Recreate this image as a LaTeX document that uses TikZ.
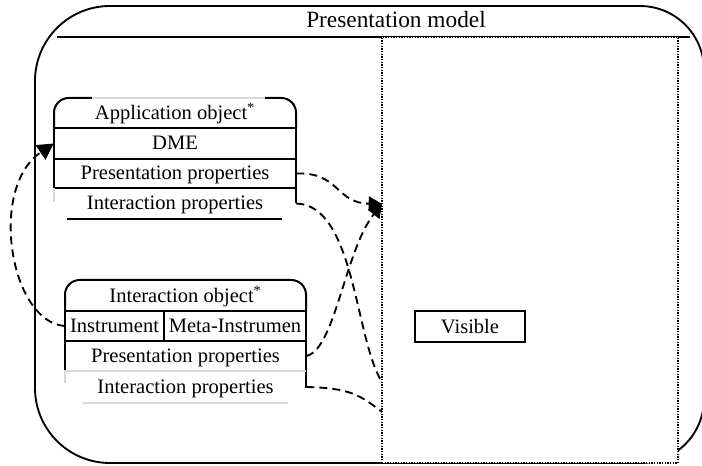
\documentclass[tikz,border=0pt]{standalone}
\usepackage{fontspec}
\setmainfont{Liberation Serif}
\usetikzlibrary{arrows.meta}
\begin{document}
\begin{tikzpicture}[x=0.75pt,y=-0.75pt,
  frame/.style={line width=1.4pt},
  boxline/.style={line width=1.5pt},
  midline/.style={line width=1pt},
  faint/.style={line width=0.8pt, black!15},
  txt/.style={font=\fontsize{15.4}{18}\selectfont},
  row/.style={txt, inner sep=0pt, text height=12.5pt, text depth=2.75pt, minimum width=181.5pt},
  irow/.style={row, minimum width=180.75pt},
  conn/.style={line width=1.4pt, dash pattern=on 6pt off 3.8pt},
  tip/.style={-{Triangle[length=10pt,width=11pt]}},
  bigtip/.style={-{Triangle[length=12pt,width=13pt]}},
  pane/.style={draw, fill=white, line width=1.25pt, dash pattern=on 1pt off 1pt},
]
\useasboundingbox (0,0) rectangle (702,466);

% outer presentation model frame
\draw[frame] (35,388) -- (35,81) .. controls (35,39.6) and (68.6,6) .. (110,6)
  -- (640,6) .. controls (675.3,6) and (704,34.7) .. (704,70)
  -- (704,399) .. controls (704,434.3) and (675.3,463) .. (640,463)
  -- (110,463) .. controls (68.6,463) and (35,429.4) .. (35,388) -- cycle;
\node[txt, font=\fontsize{17.5}{20}\selectfont] (title) at (396,20) {Presentation model};
\draw[frame] (57,37) -- (690,37);

% visible area
\node[pane, minimum width=222pt, minimum height=319.5pt, inner sep=0pt] (area) at (530,250) {};
\node[draw, line width=1.2pt, txt, minimum width=82.5pt, minimum height=23.25pt, inner sep=0pt] (visible) at (470,326.5) {Visible};

% application object
\draw[boxline, rounded corners=11pt] (54,128) -- (54,98) -- (92,98);
\draw[boxline, rounded corners=11pt] (265,98) -- (296,98) -- (296,128);
\draw[faint] (92,98) -- (265,98);
\draw[boxline] (54,128) -- (296,128) (54,159) -- (296,159);
\draw[midline] (54,188) -- (296,188);
\draw[boxline] (54,128) -- (54,188) (296,128) -- (296,203.5);
\draw[faint] (54,188) -- (54,202);
\draw[line width=1.3pt] (67,219) -- (282,219);
\node[row, minimum height=22.5pt] (apptitle) at (175,113) {Application object\textsuperscript{*}};
\node[row, minimum height=23.25pt] (dme) at (175,143.5) {DME};
\node[row, minimum height=21.75pt] (apppres) at (175,173.5) {Presentation properties};
\node[row, minimum height=22.5pt] (appint) at (175,203.5) {Interaction properties};

% interaction object
\draw[boxline, rounded corners=11pt] (65,311) -- (65,280) -- (306,280) -- (306,311);
\draw[boxline] (65,311) -- (306,311) (65,341) -- (306,341) (164,311) -- (164,341);
\draw[boxline] (65,311) -- (65,370) (306,311) -- (306,388);
\draw[faint] (65,370) -- (65,383) (65,371) -- (306,371) (83,403) -- (288,403);
\node[irow, minimum height=23.25pt] (inttitle) at (185.5,295.5) {Interaction object\textsuperscript{*}};
\node[row, minimum width=74.25pt, minimum height=22.5pt] (instr) at (114.5,326) {Instrument};
\node[row, minimum width=106.5pt, minimum height=22.5pt] (meta) at (235,326) {Meta-Instrumen};
\node[irow, minimum height=22.5pt] (intpres) at (185.5,356) {Presentation properties};
\node[irow, minimum height=22.5pt] (intint) at (185.5,387) {Interaction properties};

% connector ends on the visible area
\coordinate (hit) at (382,204);
\coordinate (low) at (382,382);
\coordinate (bottom) at (382,412);

% connectors
\draw[conn, bigtip] (instr.west) .. controls (10,322) and (-12,188) .. (dme.west);
\draw[conn, tip] (apppres.east) .. controls (340,172) and (335,203) .. (hit);
\draw[conn] (appint.east) .. controls (355,205) and (355,340) .. (low);
\draw[conn, tip] (intpres.east) .. controls (335,350) and (345,250) .. (hit);
\draw[conn] (intint.east) .. controls (350,388) and (360,395) .. (bottom);
\end{tikzpicture}
\end{document}
